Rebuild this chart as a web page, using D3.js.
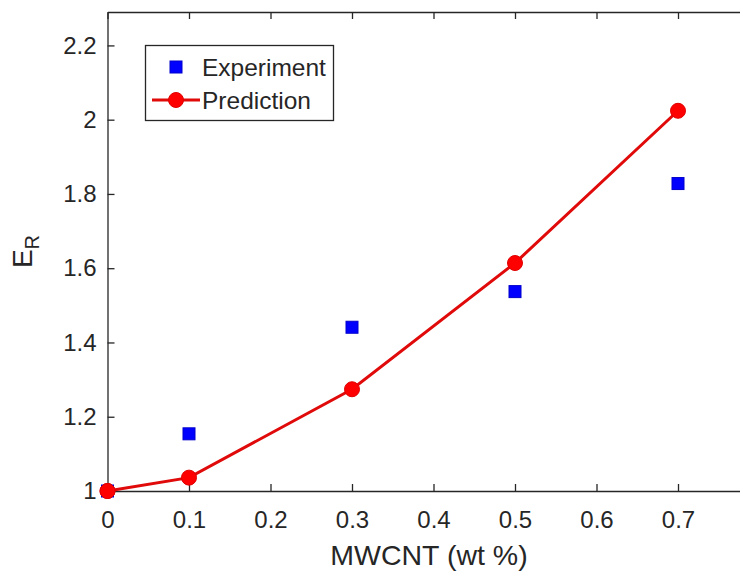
<!DOCTYPE html>
<html>
<head>
<meta charset="utf-8">
<script src="https://cdn.jsdelivr.net/npm/d3@7"></script>
<style>
  html, body { margin: 0; padding: 0; background: #fff; }
  svg { display: block; }
  text { font-family: "Liberation Sans", Arial, Helvetica, sans-serif; fill: #262626; }
</style>
</head>
<body>
<svg id="chart" width="740" height="571"></svg>
<script>
// MWCNT loading (wt %)
const loading = [0, 0.1, 0.3, 0.5, 0.7];
// Relative modulus E_R
const experiment = [1.0, 1.154, 1.441, 1.537, 1.828];
const prediction = [1.0, 1.036, 1.274, 1.614, 2.024];
// Axis ticks
const xTicks = [0, 0.1, 0.2, 0.3, 0.4, 0.5, 0.6, 0.7];
const yTicks = [1, 1.2, 1.4, 1.6, 1.8, 2, 2.2];
const xLimits = [0, 0.8];
const yLimits = [1, 2.29];

const svg = d3.select("#chart");
const plotLeft = 107.5, plotRight = 759.5, plotTop = 12, plotBottom = 491;

const x = d3.scaleLinear().domain(xLimits).range([plotLeft, plotRight]);
const y = d3.scaleLinear().domain(yLimits).range([plotBottom, plotTop]);

const axisColor = "#262626";
const tickLen = 7;
const fmt = d => d3.format("~g")(d);

// Bottom axis (ticks pointing inward)
const gx = svg.append("g").attr("transform", `translate(0,${plotBottom})`)
  .call(d3.axisBottom(x).tickValues(xTicks).tickFormat(fmt).tickSizeInner(-tickLen).tickSizeOuter(0).tickPadding(20));
// Top axis, no labels
const gxt = svg.append("g").attr("transform", `translate(0,${plotTop})`)
  .call(d3.axisTop(x).tickValues(xTicks).tickFormat("").tickSizeInner(-tickLen).tickSizeOuter(0));
// Left axis
const gy = svg.append("g").attr("transform", `translate(${plotLeft},0)`)
  .call(d3.axisLeft(y).tickValues(yTicks).tickFormat(fmt).tickSizeInner(-tickLen).tickSizeOuter(0).tickPadding(11));
// Right axis, no labels
const gyr = svg.append("g").attr("transform", `translate(${plotRight},0)`)
  .call(d3.axisRight(y).tickValues(yTicks).tickFormat("").tickSizeInner(-tickLen).tickSizeOuter(0));

[gx, gxt, gy, gyr].forEach(g => {
  g.selectAll(".domain").attr("stroke", axisColor).attr("stroke-width", 1.3);
  g.selectAll(".tick line").attr("stroke", axisColor).attr("stroke-width", 1.3);
  g.selectAll(".tick text").attr("fill", axisColor).style("font-size", "24px")
    .style("font-family", "'Liberation Sans', Arial, sans-serif");
});
gx.selectAll(".tick text").attr("dy", "0.71em");

// Axis labels
svg.append("text")
  .attr("x", 429).attr("y", 565)
  .attr("text-anchor", "middle")
  .style("font-size", "28.5px")
  .text("MWCNT (wt %)");

const yl = svg.append("text")
  .attr("transform", `translate(32,${(plotTop + plotBottom) / 2}) rotate(-90)`)
  .attr("text-anchor", "middle")
  .style("font-size", "28px");
yl.append("tspan").text("E");
yl.append("tspan").attr("dy", 7).style("font-size", "20px").text("R");

// Prediction line with circle markers
const line = d3.line().x((d, i) => x(loading[i])).y(d => y(d));
svg.append("path")
  .datum(prediction)
  .attr("d", line)
  .attr("fill", "none")
  .attr("stroke", "#e00a0a")
  .attr("stroke-width", 3);

svg.selectAll("circle.pred")
  .data(prediction)
  .join("circle")
  .attr("class", "pred")
  .attr("cx", (d, i) => x(loading[i]))
  .attr("cy", d => y(d))
  .attr("r", 7.5)
  .attr("fill", "#ff0000")
  .attr("stroke", "#e00000")
  .attr("stroke-width", 1);

// Experimental data squares
const sq = 12;
svg.selectAll("rect.exp")
  .data(experiment)
  .join("rect")
  .attr("class", "exp")
  .attr("x", (d, i) => x(loading[i]) - sq / 2)
  .attr("y", d => y(d) - sq / 2)
  .attr("width", sq)
  .attr("height", sq)
  .attr("fill", "#0000ff")
  .attr("stroke", "#0000cc")
  .attr("stroke-width", 1);

// Redraw the first circle above the coincident square
svg.append("circle")
  .attr("cx", x(loading[0])).attr("cy", y(prediction[0]))
  .attr("r", 7.5).attr("fill", "#ff0000").attr("stroke", "#e00000");

// Legend
const lg = svg.append("g");
lg.append("rect")
  .attr("x", 145.5).attr("y", 45.5).attr("width", 188).attr("height", 75)
  .attr("fill", "#fff").attr("stroke", axisColor).attr("stroke-width", 1.3);
lg.append("rect")
  .attr("x", 176 - sq / 2).attr("y", 67 - sq / 2).attr("width", sq).attr("height", sq)
  .attr("fill", "#0000ff").attr("stroke", "#0000cc");
lg.append("text").attr("x", 202).attr("y", 67).attr("dy", "0.35em")
  .style("font-size", "24.5px").text("Experiment");
lg.append("line")
  .attr("x1", 152).attr("x2", 200).attr("y1", 100).attr("y2", 100)
  .attr("stroke", "#e00a0a").attr("stroke-width", 3);
lg.append("circle").attr("cx", 176).attr("cy", 100).attr("r", 7.5)
  .attr("fill", "#ff0000").attr("stroke", "#e00000");
lg.append("text").attr("x", 202).attr("y", 100).attr("dy", "0.35em")
  .style("font-size", "24.5px").text("Prediction");
</script>
</body>
</html>
